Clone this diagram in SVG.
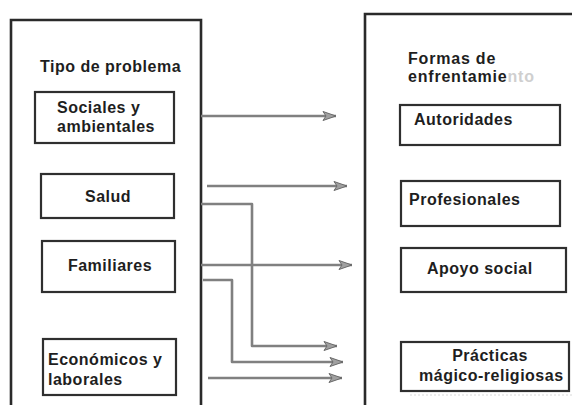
<svg xmlns="http://www.w3.org/2000/svg" width="572" height="405" viewBox="0 0 572 405">
<style>
.frame{fill:none;stroke:#2a2a2a;stroke-width:2.6}
.box{fill:#fff;stroke:#2f2f2f;stroke-width:2.2}
.t{font-family:"Liberation Sans",Arial,sans-serif;font-weight:bold;font-size:16px;letter-spacing:0.5px;fill:#1e1e1e}
.c{text-anchor:middle}
.con{fill:none;stroke:#808080;stroke-width:2.6;stroke-linejoin:round}
</style>
<defs>
<marker id="ah" markerUnits="userSpaceOnUse" markerWidth="16" markerHeight="12" refX="14" refY="6" orient="auto">
<path d="M1,1.5 L14,6 L1,10.5 L4,6 Z" fill="#a0a0a0" stroke="#6a6a6a" stroke-width="1"/>
</marker>
</defs>
<rect width="572" height="405" fill="#fff"/>
<g id="frame-left">
<path class="frame" d="M11,406 V20 H201 V406"/>
<text class="t" x="40" y="72">Tipo de problema</text>
</g>
<g id="frame-right">
<path class="frame" d="M365,406 V14 H574"/>
<text class="t" x="408" y="64" style="letter-spacing:0.8px">Formas de</text>
<text class="t" x="408" y="82" style="letter-spacing:0.8px">enfrentamie<tspan fill="#cfcfcf">nto</tspan></text>
<line x1="410" y1="395" x2="572" y2="395" stroke="#d8d8d8" stroke-width="1" stroke-dasharray="2 2"/>
</g>
<g id="n-sociales">
<rect class="box" x="35" y="92" width="139" height="51"/>
<text class="t" x="57" y="113">Sociales y</text>
<text class="t" x="57" y="132">ambientales</text>
</g>
<g id="n-salud">
<rect class="box" x="41" y="174" width="133" height="44"/>
<text class="t c" x="108" y="202">Salud</text>
</g>
<g id="n-familiares">
<rect class="box" x="42" y="241" width="133" height="51"/>
<text class="t c" x="110" y="271">Familiares</text>
</g>
<g id="n-economicos">
<rect class="box" x="43" y="339" width="133" height="56"/>
<text class="t" x="48" y="365">Económicos y</text>
<text class="t" x="48" y="385">laborales</text>
</g>
<g id="n-autoridades">
<rect class="box" x="400" y="105" width="160" height="40"/>
<text class="t" x="414" y="125">Autoridades</text>
</g>
<g id="n-profesionales">
<rect class="box" x="401" y="181" width="159" height="45"/>
<text class="t" x="409" y="205">Profesionales</text>
</g>
<g id="n-apoyo">
<rect class="box" x="401" y="248" width="165" height="44"/>
<text class="t" x="427" y="274">Apoyo social</text>
</g>
<g id="n-practicas">
<rect class="box" x="401" y="342" width="168" height="49"/>
<text class="t c" x="490" y="361">Prácticas</text>
<text class="t" x="419" y="381">mágico-religiosas</text>
</g>
<g id="connectors">
<path class="con" d="M201,116 H336" marker-end="url(#ah)"/>
<path class="con" d="M207,186 H347" marker-end="url(#ah)"/>
<path class="con" d="M201,265 H352" marker-end="url(#ah)"/>
<path class="con" d="M201,204 H252 V346 H337" marker-end="url(#ah)"/>
<path class="con" d="M203,280 H232 V362 H343" marker-end="url(#ah)"/>
<path class="con" d="M208,378 H342" marker-end="url(#ah)"/>
</g>
</svg>
